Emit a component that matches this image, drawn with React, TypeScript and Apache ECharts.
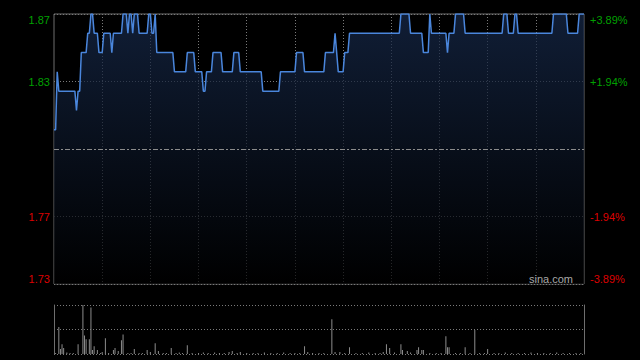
import React, { useEffect, useRef } from "react";
import * as echarts from "echarts";

// ---- data ----
const prevClose = 1.8;
const yMin = 1.73;
const yMax = 1.87;
const tickValues = [1.73, 1.765, 1.835, 1.87];
const leftTickLabels = ["1.73", "1.77", "1.83", "1.87"];
const rightTickLabels = ["-3.89%", "-1.94%", "+1.94%", "+3.89%"];

// price change points: [minute index, price]
const priceChanges: [number, number][] = [
  [0, 1.81], [2, 1.84], [3, 1.83], [14, 1.82], [15, 1.83], [17, 1.85], [21, 1.86],
  [23, 1.87], [25, 1.86], [28, 1.85], [31, 1.86], [36, 1.85], [37, 1.86], [43, 1.87],
  [46, 1.86], [47, 1.87], [49, 1.86], [50, 1.87], [53, 1.86], [59, 1.87], [61, 1.86],
  [63, 1.87], [64, 1.85], [75, 1.84], [83, 1.85], [88, 1.84], [93, 1.83], [95, 1.84],
  [99, 1.85], [105, 1.84], [112, 1.85], [116, 1.84], [130, 1.83], [141, 1.84],
  [151, 1.85], [156, 1.84], [169, 1.85], [175, 1.86], [176, 1.85], [177, 1.84],
  [181, 1.85], [184, 1.86], [216, 1.87], [222, 1.86], [230, 1.85], [234, 1.87],
  [235, 1.86], [245, 1.85], [246, 1.86], [250, 1.87], [256, 1.86], [280, 1.87],
  [283, 1.86], [287, 1.87], [289, 1.86], [311, 1.87], [320, 1.86], [327, 1.87],
];

// volume (relative units): [minute index, volume]
const volumePoints: [number, number][] = [
  [1, 2], [3, 55], [4, 10], [5, 20], [6, 12], [8, 3], [10, 2], [12, 2], [15, 20],
  [18, 100], [19, 38], [20, 30], [22, 30], [23, 95], [24, 8], [25, 16], [27, 8],
  [29, 2], [30, 4], [32, 32], [34, 2], [37, 8], [38, 12], [40, 6], [42, 28], [43, 40],
  [46, 2], [48, 2], [50, 10], [53, 2], [55, 2], [58, 8], [60, 4], [63, 22], [65, 6],
  [68, 2], [70, 2], [73, 12], [76, 2], [78, 3], [80, 2], [83, 18], [86, 2], [90, 2],
  [93, 3], [96, 2], [100, 3], [103, 2], [106, 2], [109, 4], [111, 6], [114, 2],
  [116, 4], [120, 2], [124, 2], [127, 2], [131, 3], [135, 2], [139, 2], [143, 3],
  [147, 2], [150, 2], [153, 2], [156, 16], [158, 4], [161, 2], [165, 2], [168, 2],
  [173, 71], [175, 4], [178, 4], [181, 2], [184, 14], [188, 2], [192, 2], [196, 3],
  [200, 2], [203, 2], [205, 4], [207, 20], [209, 12], [212, 3], [216, 20], [217, 8],
  [220, 6], [222, 3], [226, 8], [227, 14], [229, 8], [230, 8], [234, 2], [238, 2],
  [241, 2], [244, 36], [245, 14], [246, 14], [250, 2], [253, 2], [256, 14], [259, 2],
  [262, 49], [265, 2], [268, 2], [270, 10], [274, 2], [277, 2], [281, 3], [285, 2],
  [289, 2], [293, 2], [297, 3], [301, 2], [305, 2], [309, 2], [313, 3], [317, 2],
  [321, 2], [325, 2], [328, 2],
];

function buildTimes(): string[] {
  const out: string[] = [];
  const fmt = (m: number) =>
    String(Math.floor(m / 60)).padStart(2, "0") + ":" + String(m % 60).padStart(2, "0");
  for (let m = 9 * 60 + 30; m <= 12 * 60; m++) out.push(fmt(m));
  for (let m = 13 * 60 + 1; m <= 16 * 60; m++) out.push(fmt(m));
  return out;
}

const times = buildTimes();

function buildPrices(): number[] {
  const out: number[] = [];
  let k = 0;
  for (let i = 0; i < times.length; i++) {
    while (k + 1 < priceChanges.length && priceChanges[k + 1][0] <= i) k++;
    out.push(priceChanges[k][1]);
  }
  return out;
}

function buildVolumes(): number[] {
  const out: number[] = times.map(() => 0);
  volumePoints.forEach(([i, v]) => {
    out[i] = v;
  });
  return out;
}

const FONT = "Liberation Sans, Arial, sans-serif";

export default function App() {
  const ref = useRef<HTMLDivElement>(null);

  useEffect(() => {
    if (!ref.current) return;
    const chart = echarts.init(ref.current, undefined, { renderer: "svg" });
    const prices = buildPrices();
    const volumes = buildVolumes();

    const idxOf = (v: number) => tickValues.findIndex((t) => Math.abs(t - v) < 1e-6);
    const rich = {
      g: { color: "#00a000", fontSize: 11, fontFamily: FONT },
      r: { color: "#dd0000", fontSize: 11, fontFamily: FONT },
    };
    const leftFmt = (v: number) => {
      const k = idxOf(v);
      if (k < 0) return "";
      return (tickValues[k] > prevClose ? "{g|" : "{r|") + leftTickLabels[k] + "}";
    };
    const rightFmt = (v: number) => {
      const k = idxOf(v);
      if (k < 0) return "";
      return (tickValues[k] > prevClose ? "{g|" : "{r|") + rightTickLabels[k] + "}";
    };
    const dotted = { color: "#7a7a7a", type: [1, 2] as any, width: 1 };

    chart.setOption({
      animation: false,
      backgroundColor: "#000000",
      grid: [
        { left: 54, top: 14, width: 530, height: 270, show: true, borderColor: "#6e6e6e", borderWidth: 1, backgroundColor: "transparent" },
        { left: 54, top: 305, width: 530, height: 49, show: false },
      ],
      xAxis: [
        {
          type: "category", gridIndex: 0, data: times, boundaryGap: false,
          axisLine: { show: false }, axisTick: { show: false }, axisLabel: { show: false },
          splitLine: { show: true, interval: (i: number) => i > 0 && i < times.length - 1 && i % 30 === 0, lineStyle: dotted },
        },
        {
          type: "category", gridIndex: 1, data: times, boundaryGap: false,
          axisLine: { show: false }, axisTick: { show: false }, axisLabel: { show: false },
          splitLine: { show: false },
        },
      ],
      yAxis: [
        {
          type: "value", gridIndex: 0, min: yMin, max: yMax, position: "left",
          axisLine: { show: false },
          axisTick: { show: false, customValues: tickValues },
          axisLabel: {
            customValues: tickValues, formatter: leftFmt, rich, margin: 4,
            verticalAlignMaxLabel: "top", verticalAlignMinLabel: "bottom",
            fontSize: 11, fontFamily: FONT,
          },
          splitLine: { show: true, lineStyle: dotted },
        },
        {
          type: "value", gridIndex: 0, min: yMin, max: yMax, position: "right",
          axisLine: { show: false },
          axisTick: { show: false, customValues: tickValues },
          axisLabel: {
            customValues: tickValues, formatter: rightFmt, rich, margin: 6,
            verticalAlignMaxLabel: "top", verticalAlignMinLabel: "bottom",
            fontSize: 11, fontFamily: FONT,
          },
          splitLine: { show: false },
        },
        {
          type: "value", gridIndex: 1, min: 0, max: 100, interval: 50, position: "left",
          axisLine: { show: true, lineStyle: { color: "#6e6e6e", width: 1 } },
          axisTick: { show: false }, axisLabel: { show: false },
          splitLine: { show: true, lineStyle: dotted },
        },
        {
          type: "value", gridIndex: 1, min: 0, max: 100, interval: 50, position: "right",
          axisLine: { show: true, lineStyle: { color: "#6e6e6e", width: 1 } },
          axisTick: { show: false }, axisLabel: { show: false },
          splitLine: { show: false },
        },
      ],
      series: [
        {
          type: "line", xAxisIndex: 0, yAxisIndex: 0, data: prices,
          showSymbol: false, symbol: "none",
          lineStyle: { color: "#4a86dc", width: 1.5 },
          areaStyle: {
            color: new echarts.graphic.LinearGradient(0, 0, 0, 1, [
              { offset: 0, color: "#172a4c" },
              { offset: 1, color: "#000000" },
            ]),
          },
          markLine: {
            silent: true, symbol: "none", label: { show: false },
            lineStyle: { color: "#8c8c8c", type: [5, 2, 2, 2], width: 1 },
            data: [{ yAxis: prevClose }],
          },
        },
        {
          type: "bar", xAxisIndex: 1, yAxisIndex: 2, data: volumes,
          barWidth: 1, itemStyle: { color: "#8c8c8c" },
        },
      ],
      graphic: [
        {
          type: "text", right: 67, top: 273, z: 100,
          style: { text: "sina.com", fill: "#a8a8a8", font: "11px " + FONT },
        },
      ],
    });
    return () => chart.dispose();
  }, []);

  return (
    <div
      ref={ref}
      style={{ position: "fixed", left: 0, top: 0, width: 640, height: 360, background: "#000" }}
    />
  );
}
